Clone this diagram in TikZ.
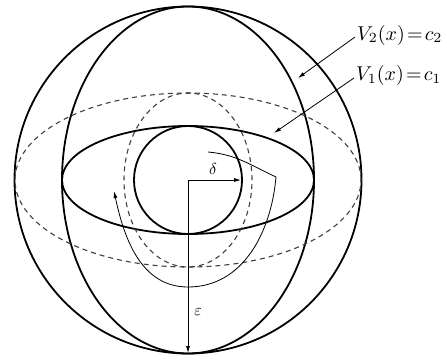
\documentclass[tikz,border=0pt]{standalone}
\usetikzlibrary{arrows.meta}
\begin{document}
\begin{tikzpicture}[x=1pt,y=1pt,
  solidcurve/.style={line width=1.8pt},
  dashcurve/.style={line width=1.1pt,black!75,dash pattern=on 5pt off 4pt},
  thinline/.style={line width=0.8pt},
  tip/.style={-{Latex[length=7pt,width=4pt]}},
  lab/.style={inner sep=0pt},
  smalllab/.style={inner sep=0pt}]
\useasboundingbox (0,0) rectangle (447,360);
\coordinate (O) at (188,180);
% outer circle and ellipses
\draw[solidcurve] (O) circle [radius=173.5];
\draw[solidcurve] (O) ellipse [x radius=126, y radius=173.5];
\draw[solidcurve] (O) ellipse [x radius=126, y radius=54];
\draw[solidcurve] (O) circle [radius=54];
\draw[dashcurve] (O) ellipse [x radius=173, y radius=87];
\draw[dashcurve] (O) ellipse [x radius=64, y radius=87];
% radii
\coordinate (D) at (241,180);
\coordinate (E) at (188,7);
\draw[thinline,tip] (O) -- (D);
\draw[thinline,tip] (O) -- (E);
\node[smalllab] (dl) at (213,191) {\scalebox{1.6}{$\delta$}};
\node[smalllab] (el) at (198,48) {\scalebox{1.6}{$\varepsilon$}};
% trajectory
\coordinate (T0) at (208,208);
\coordinate (T1) at (276,183);
\coordinate (T2) at (188,73);
\coordinate (T3) at (114,169);
\draw[thinline,tip] (T0) to[out=-5,in=155] (T1) to[out=-95,in=0] (T2) to[out=180,in=-78] (T3);
% labels
\node[lab,anchor=west] (v2) at (357,325) {\scalebox{2.0}{$V_2(x)\!=\!c_2$}};
\node[lab,anchor=west] (v1) at (356,285) {\scalebox{2.0}{$V_1(x)\!=\!c_1$}};
\coordinate (A2) at (298,282);
\coordinate (A1) at (274,227);
\draw[thinline,tip] (v2.west) ++(-2,-2) -- (A2);
\draw[thinline,tip] (v1.west) ++(-2,-3) -- (A1);
\end{tikzpicture}
\end{document}
